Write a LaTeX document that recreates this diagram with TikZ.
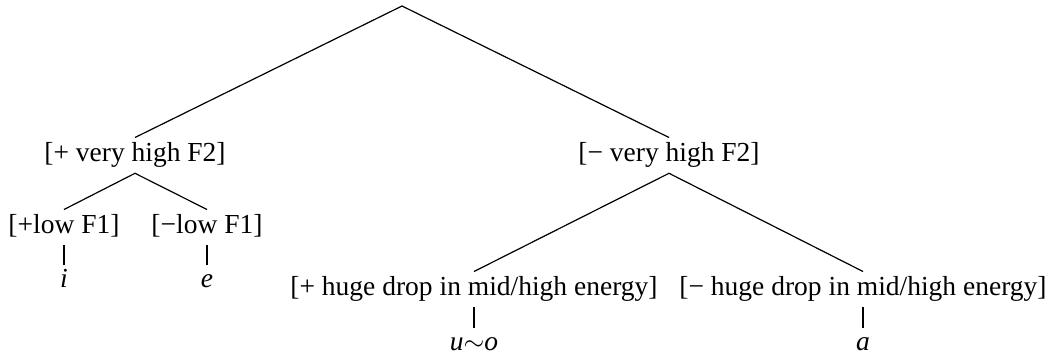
\documentclass[tikz,border=0pt]{standalone}
\usepackage{fontspec}
\setmainfont{Liberation Serif}
\tikzset{
  lbl/.style={inner sep=0pt, anchor=base, text height=8.6pt, text depth=4.4pt, font=\fontsize{10.3pt}{12pt}\selectfont},
  leaf/.style={inner sep=0pt, anchor=base, text height=7.9pt, text depth=0pt, font=\fontsize{10.3pt}{12pt}\selectfont\itshape},
  edge/.style={draw=black, line width=0.45pt}
}
\begin{document}
\begin{tikzpicture}[x=0.3745pt, y=-0.3745pt]
\useasboundingbox (0,0) rectangle (1047,355);
\coordinate (root) at (402,6);
\node[lbl] (L1) at (135,161) {[+ very high F2]};
\node[lbl] (R1) at (669,161) {[− very high F2]};
\node[lbl] (LL) at (64,233) {[+low F1]};
\node[lbl] (LR) at (207,233) {[−low F1]};
\node[lbl] (RL) at (474,295) {[+ huge drop in mid/high energy]};
\node[lbl] (RR) at (863,295) {[− huge drop in mid/high energy]};
\node[leaf] (i) at (64,287) {i};
\node[leaf] (e) at (207,287) {e};
\node[leaf] (uo) at (474,350) {u$\sim$o};
\node[leaf] (a) at (863,350) {a};
\draw[edge] (L1.north) -- (root) -- (R1.north);
\draw[edge] (LL.north) -- (L1.south) -- (LR.north);
\draw[edge] (RL.north) -- (R1.south) -- (RR.north);
\draw[edge] (LL.south) -- (i.north);
\draw[edge] (LR.south) -- (e.north);
\draw[edge] (RL.south) -- (uo.north);
\draw[edge] (RR.south) -- (a.north);
\end{tikzpicture}
\end{document}
